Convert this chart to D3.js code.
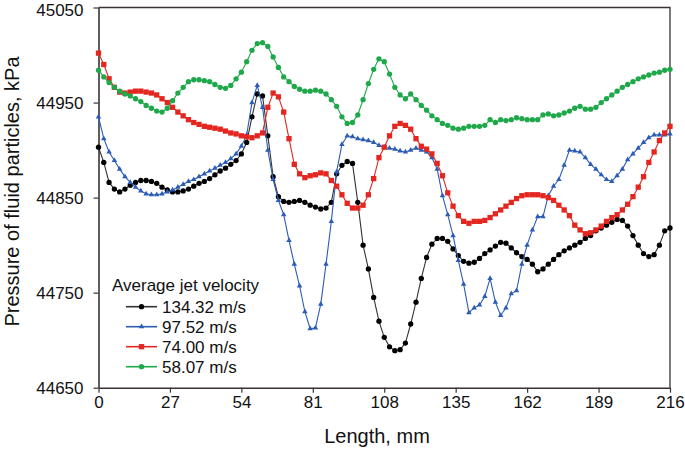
<!DOCTYPE html>
<html lang="en">
<head>
<meta charset="UTF-8">
<script src="https://cdn.jsdelivr.net/npm/d3@7"></script>
<title>Pressure of fluid particles</title>
<style>
    body { margin: 0; background: white; }
    svg { display: block; font-family: "Liberation Sans", Arial, sans-serif; }
</style>
</head>
<body>
<script>
    // ---------------- data (2 mm step) ----------------
    const lengths = d3.range(0, 217, 2);
    const xTicks = [0, 27, 54, 81, 108, 135, 162, 189, 216];
    const yTicks = [44650, 44750, 44850, 44950, 45050];
    const seriesNames = ["134.32 m/s", "97.52 m/s", "74.00 m/s", "58.07 m/s"];

    const v134 = [44903, 44887, 44866, 44859, 44856, 44859, 44863, 44866, 44868, 44868,
        44867, 44865, 44861, 44858, 44856, 44856, 44857, 44859, 44862, 44865,
        44867, 44870, 44874, 44878, 44881, 44885, 44889, 44896, 44908, 44935,
        44959, 44957, 44915, 44872, 44851, 44846, 44845, 44846, 44847, 44845,
        44842, 44840, 44838, 44839, 44845, 44875, 44884, 44888, 44886, 44845,
        44800, 44775, 44745, 44720, 44703, 44693, 44689, 44690, 44697, 44717,
        44740, 44765, 44787, 44801, 44807, 44807, 44804, 44796, 44789, 44783,
        44781, 44782, 44786, 44791, 44795, 44799, 44803, 44802, 44797, 44792,
        44788, 44785, 44780, 44772, 44775, 44780, 44785, 44790, 44794, 44797,
        44800, 44803, 44807, 44810, 44815, 44818, 44821, 44824, 44827, 44826,
        44820, 44810, 44800, 44791, 44788, 44790, 44800, 44815, 44818];

    const v97 = [44935, 44912, 44898, 44889, 44880, 44872, 44866, 44861, 44857, 44854,
        44853, 44853, 44854, 44856, 44858, 44861, 44864, 44867, 44869, 44872,
        44875, 44878, 44881, 44884, 44887, 44891, 44896, 44904, 44916, 44950,
        44968, 44945, 44900, 44869, 44847, 44832, 44805, 44780, 44757, 44730,
        44712, 44713, 44738, 44780, 44825, 44877, 44906, 44915, 44914, 44912,
        44911, 44910, 44908, 44905, 44903, 44902, 44901, 44899, 44898, 44900,
        44902, 44900, 44898, 44892, 44880, 44852, 44832, 44810, 44784, 44759,
        44729, 44734, 44737, 44746, 44765, 44740, 44726, 44734, 44749, 44752,
        44780, 44800, 44816, 44830, 44830, 44852, 44862, 44869, 44884, 44900,
        44899, 44898, 44892, 44885, 44880, 44874, 44869, 44867, 44873, 44880,
        44890, 44896, 44902, 44908, 44913, 44916, 44916, 44916, 44917];

    const v74 = [45002, 44990, 44975, 44966, 44961, 44960, 44961, 44962, 44962, 44961,
        44960, 44958, 44954, 44950, 44945, 44940, 44936, 44932, 44929, 44927,
        44925, 44924, 44923, 44922, 44920, 44918, 44917, 44915, 44914, 44913,
        44915, 44918, 44945, 44960, 44956, 44940, 44912, 44885, 44875, 44871,
        44873, 44874, 44876, 44875, 44868, 44862, 44853, 44844, 44839, 44839,
        44842, 44853, 44870, 44892, 44903, 44915, 44925, 44928, 44926, 44922,
        44912, 44904, 44901, 44896, 44886, 44873, 44855, 44841, 44831, 44825,
        44823, 44825, 44825, 44826, 44829, 44833, 44837, 44841, 44845, 44849,
        44852, 44853, 44853, 44853, 44852, 44850, 44847, 44842, 44837, 44831,
        44821, 44816, 44812, 44813, 44816, 44820, 44825, 44829, 44832, 44837,
        44843, 44851, 44861, 44872, 44887, 44898, 44910, 44918, 44925];

    const v58 = [44984, 44977, 44971, 44966, 44962, 44959, 44957, 44954, 44951, 44947,
        44944, 44941, 44940, 44944, 44952, 44960, 44966, 44972, 44974, 44974,
        44973, 44972, 44969, 44966, 44965, 44968, 44975, 44982, 44993, 45005,
        45012, 45013, 45009, 44998, 44987, 44977, 44972, 44967, 44964, 44962,
        44962, 44963, 44962, 44959, 44953, 44946, 44935, 44928, 44929, 44937,
        44953, 44970, 44985, 44996, 44993, 44980, 44966, 44958, 44954, 44959,
        44953, 44947, 44942, 44936, 44932, 44928, 44926, 44923, 44922, 44923,
        44925, 44925, 44925, 44926, 44932, 44929, 44932, 44931, 44932, 44934,
        44933, 44932, 44932, 44932, 44937, 44938, 44936, 44937, 44939, 44941,
        44944, 44946, 44943, 44943, 44945, 44950, 44954, 44958, 44962, 44966,
        44969, 44972, 44975, 44977, 44979, 44981, 44982, 44984, 44985];

    // ---------------- layout ----------------
    const W = 685, H = 450;
    const plot = { left: 98.5, right: 670, top: 7.5, bottom: 387.7 };

    const svg = d3.select("body").append("svg")
        .attr("width", W)
        .attr("height", H);

    const x = d3.scaleLinear().domain([0, 216]).range([plot.left, plot.right]);
    const y = d3.scaleLinear().domain([44650, 45050]).range([plot.bottom, plot.top]);

    const axisColor = "#3b3333";

    // frame (top + right)
    svg.append("path")
        .attr("d", `M${plot.left},${plot.top}H${plot.right}V${plot.bottom}`)
        .attr("fill", "none")
        .attr("stroke", axisColor)
        .attr("stroke-width", 1.3);

    // axes
    const xAxis = svg.append("g")
        .attr("transform", `translate(0,${plot.bottom})`)
        .call(d3.axisBottom(x).tickValues(xTicks).tickFormat(d3.format("d"))
            .tickSize(5).tickSizeOuter(0).tickPadding(3));
    const yAxis = svg.append("g")
        .attr("transform", `translate(${plot.left},0)`)
        .call(d3.axisLeft(y).tickValues(yTicks).tickFormat(d3.format("d"))
            .tickSize(5).tickSizeOuter(0).tickPadding(10));

    [xAxis, yAxis].forEach(g => {
        g.select(".domain").attr("stroke", axisColor).attr("stroke-width", 1.6);
        g.selectAll(".tick line").attr("stroke", axisColor).attr("stroke-width", 1.2);
        g.selectAll(".tick text")
            .attr("fill", "#111")
            .style("font-size", "17px")
            .style("font-family", '"Liberation Sans", Arial, sans-serif');
    });
    // the top label sits right at the edge; keep it inside the picture
    yAxis.selectAll(".tick text").filter(d => d === 45050).attr("dy", "0.45em");

    // axis titles
    svg.append("text")
        .attr("x", 377)
        .attr("y", 443)
        .attr("text-anchor", "middle")
        .style("font-size", "20px")
        .attr("fill", "#111")
        .text("Length, mm");

    svg.append("text")
        .attr("transform", "translate(19,191.5) rotate(-90)")
        .attr("text-anchor", "middle")
        .style("font-size", "20px")
        .attr("fill", "#111")
        .text("Pressure of fluid particles, kPa");

    // ---------------- series ----------------
    const series = [
        { name: seriesNames[0], values: v134, line: "#333", fill: "#000", sym: d3.symbolCircle, size: 22 },
        { name: seriesNames[1], values: v97, line: "#2c5cb5", fill: "#2c5cb5", sym: d3.symbolTriangle, size: 13 },
        { name: seriesNames[2], values: v74, line: "#e3261f", fill: "#e3261f", sym: d3.symbolSquare, size: 28 },
        { name: seriesNames[3], values: v58, line: "#1ea84a", fill: "#1ea84a", sym: d3.symbolCircle, size: 22 }
    ];

    const line = d3.line()
        .x((d, i) => x(lengths[i]))
        .y(d => y(d));

    series.forEach(s => {
        const g = svg.append("g");
        g.append("path")
            .attr("d", line(s.values))
            .attr("fill", "none")
            .attr("stroke", s.line)
            .attr("stroke-width", 1.1);
        g.selectAll("path.mk")
            .data(s.values)
            .enter()
            .append("path")
            .attr("class", "mk")
            .attr("d", d3.symbol().type(s.sym).size(s.size))
            .attr("transform", (d, i) => `translate(${x(lengths[i])},${y(d)})`)
            .attr("fill", s.fill);
    });

    // ---------------- legend ----------------
    const legend = svg.append("g").style("font-size", "17px").attr("fill", "#111");
    legend.append("text")
        .attr("x", 112)
        .attr("y", 285)
        .attr("dy", "0.35em")
        .text("Average jet velocity");

    series.forEach((s, i) => {
        const ly = 306.7 + i * 20;
        legend.append("line")
            .attr("x1", 126).attr("x2", 157)
            .attr("y1", ly).attr("y2", ly)
            .attr("stroke", s.line)
            .attr("stroke-width", 1.6);
        legend.append("path")
            .attr("d", d3.symbol().type(s.sym).size(s.size))
            .attr("transform", `translate(141.5,${ly})`)
            .attr("fill", s.fill);
        legend.append("text")
            .attr("x", 162)
            .attr("y", ly)
            .attr("dy", "0.35em")
            .text(s.name);
    });
</script>
</body>
</html>
